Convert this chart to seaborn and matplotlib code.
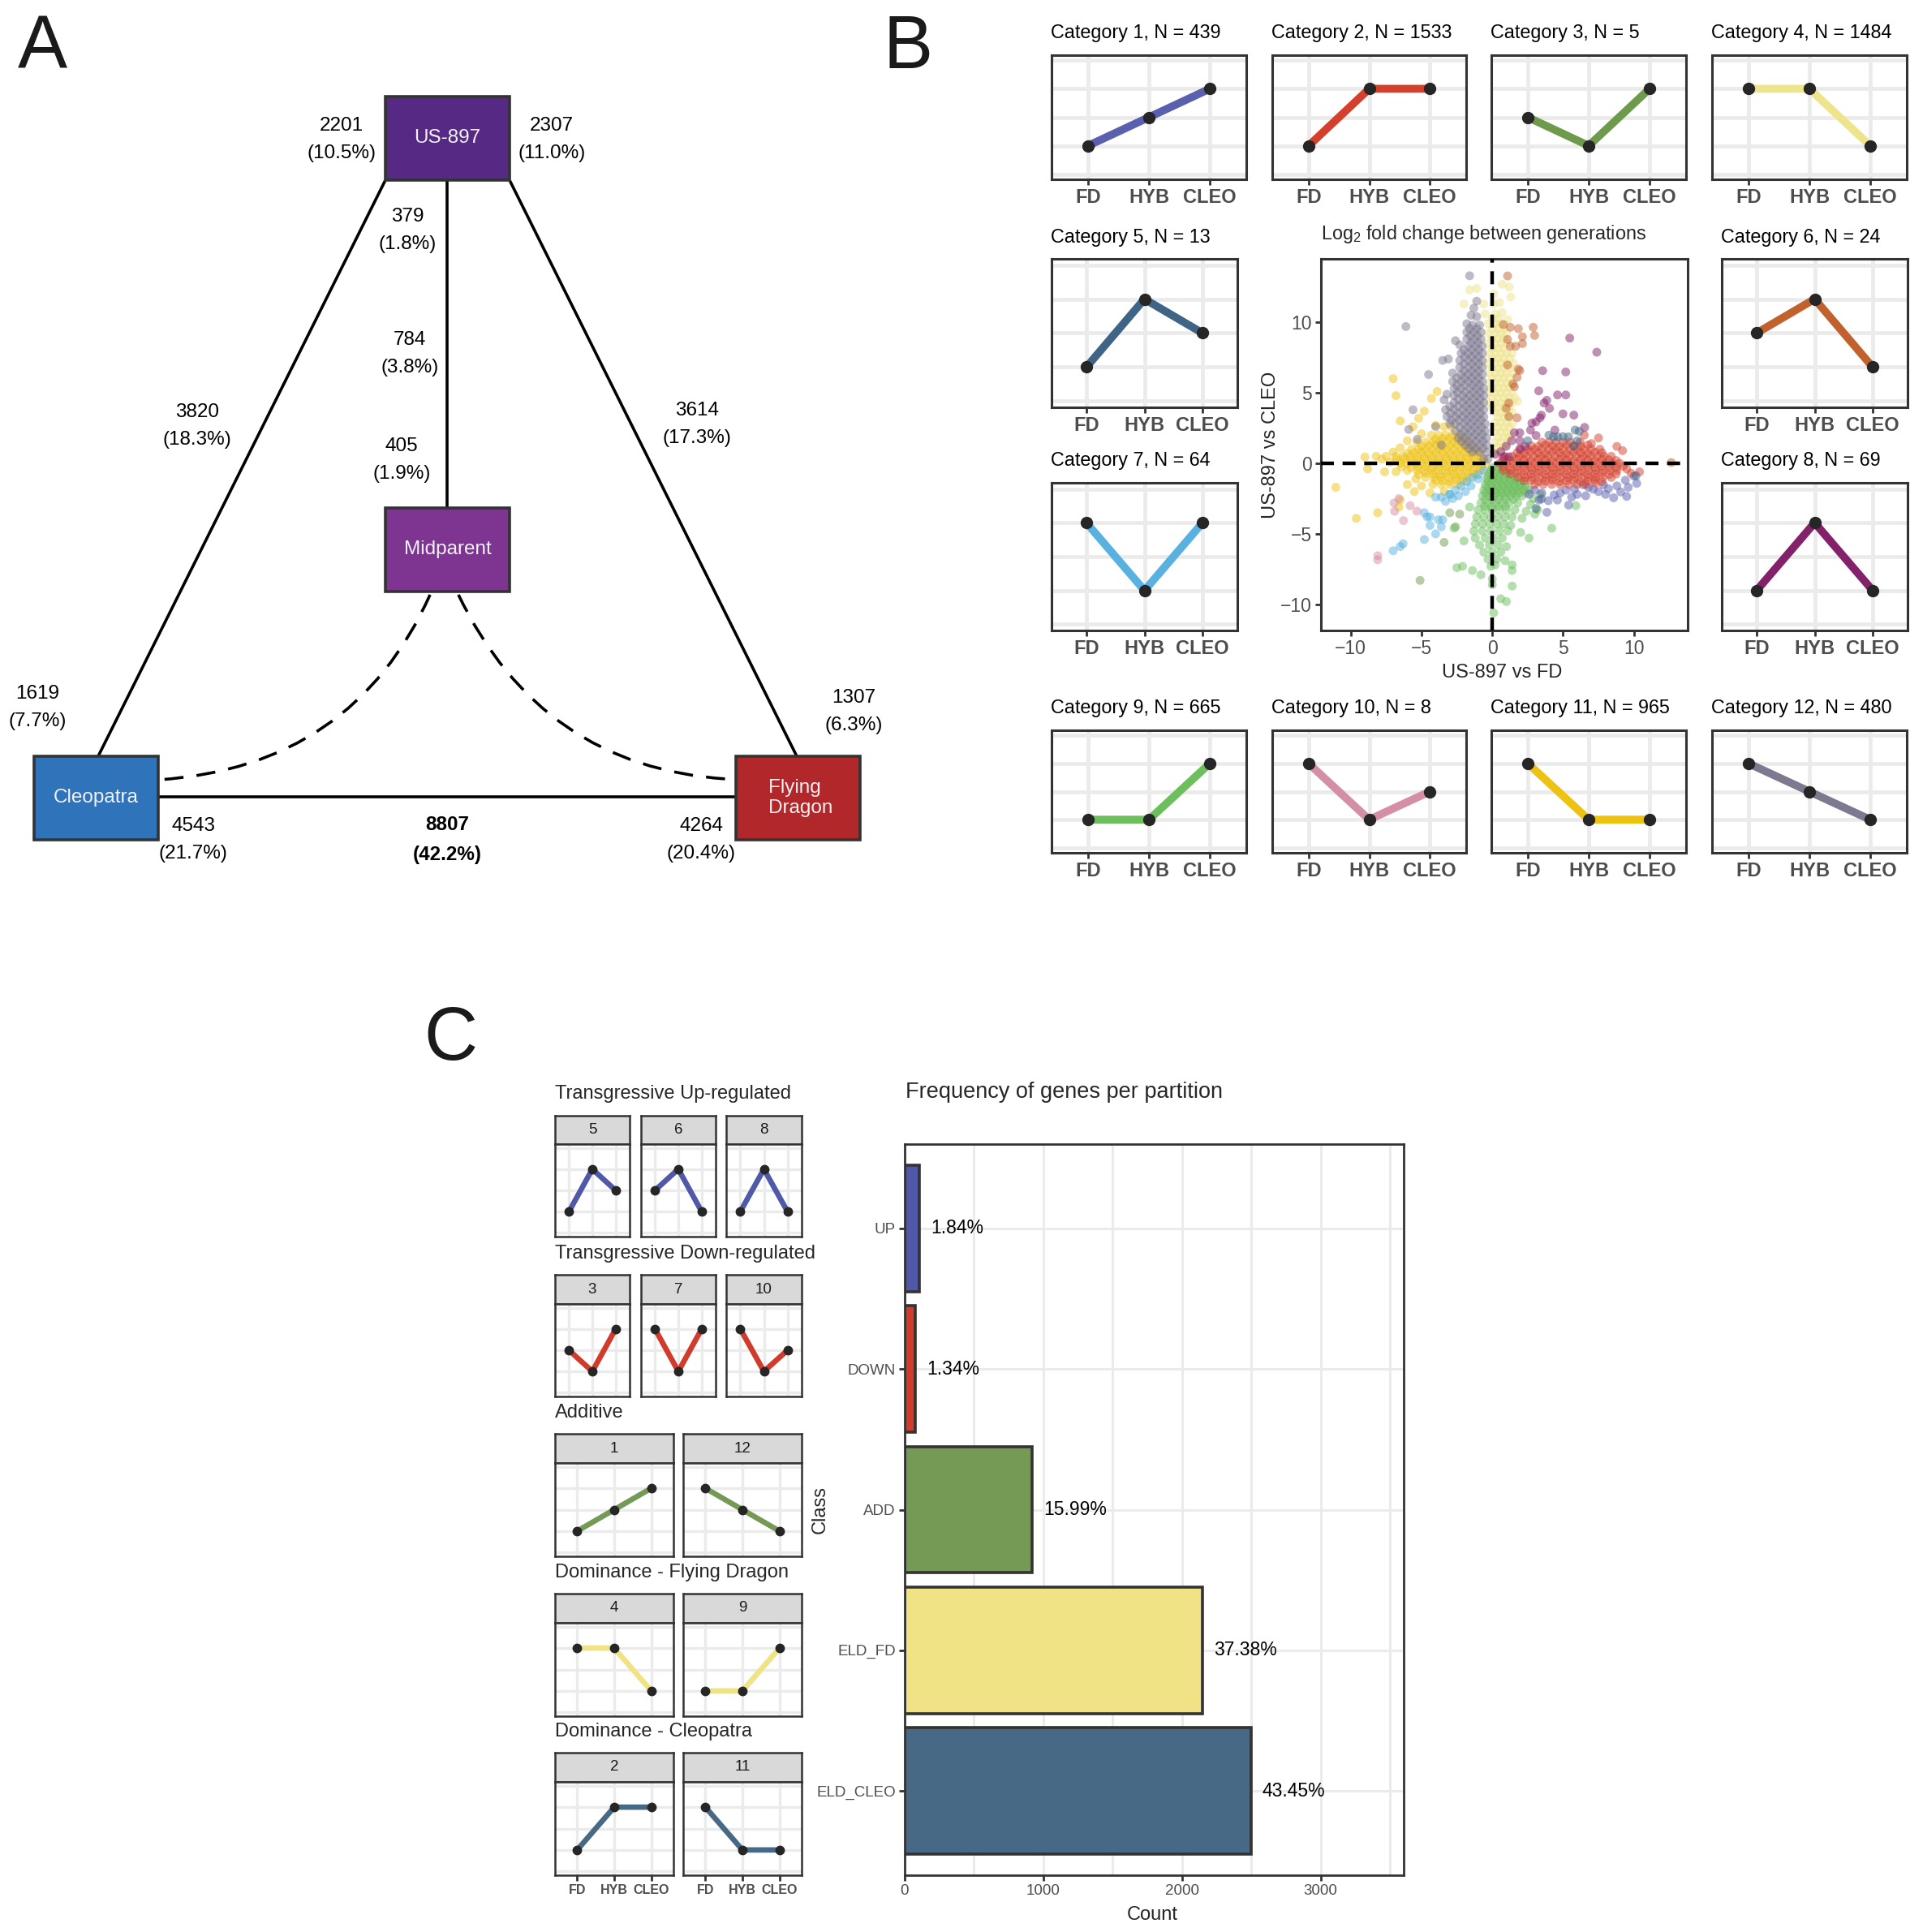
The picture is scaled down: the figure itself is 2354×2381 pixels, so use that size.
import matplotlib
matplotlib.use('Agg')
import matplotlib.pyplot as plt
import seaborn as sns
import pandas as pd
from matplotlib.patches import Rectangle, PathPatch
from matplotlib.path import Path

sns.set_theme(style='white')
plt.rcParams['font.family'] = ['Liberation Sans', 'DejaVu Sans']
plt.rcParams['mathtext.fontset'] = 'custom'
plt.rcParams['mathtext.rm'] = 'Liberation Sans'

# ---------------- data ----------------
# panel A: genes per contrast
a_counts = [2201, 2307, 379, 784, 405, 3820, 3614, 1619, 1307, 4543, 8807, 4264]
a_pcts = [10.5, 11.0, 1.8, 3.8, 1.9, 18.3, 17.3, 7.7, 6.3, 21.7, 42.2, 20.4]
a_nodes = ['US-897', 'Midparent', 'Cleopatra', 'Flying\nDragon']
a_node_colors = ['#562A84', '#7D3591', '#2F73BA', '#B2272A']

# panel B: expression categories
stages = ['FD', 'HYB', 'CLEO']
cat_ids = [1, 2, 3, 4, 5, 6, 7, 8, 9, 10, 11, 12]
cat_n = [439, 1533, 5, 1484, 13, 24, 64, 69, 665, 8, 965, 480]
cat_fd = [1, 1, 2, 3, 1, 2, 3, 1, 1, 3, 3, 3]
cat_hyb = [2, 3, 1, 3, 3, 3, 1, 3, 1, 1, 1, 2]
cat_cleo = [3, 3, 3, 1, 2, 1, 3, 1, 3, 2, 1, 1]
cat_colors = ['#5A5FAE', '#D5402D', '#6E9A4C', '#EEE48B', '#3F6485', '#C1622E',
              '#58B1E0', '#83216B', '#6DBF5E', '#D48FA6', '#EEC213', '#7E7990']

# log2 fold change points (US-897 vs FD, US-897 vs CLEO), read per category
pts_cat1 = [(8.57, -2.44), (9.49, -2.34), (9.07, -2.03), (10.2, -1.42), (10.0, -0.9), (7.13, -1.83),
            (5.39, -2.96), (3.86, -3.47), (3.96, -2.65), (4.37, -2.24), (5.8, -1.83), (7.85, -1.52),
            (6.42, -1.52), (3.0, -1.9), (3.5, -2.1), (4.8, -2.1), (5.2, -1.9), (6.0, -2.2), (6.8, -1.7),
            (7.5, -2.0), (8.2, -1.8), (8.8, -1.6), (9.4, -1.2), (2.6, -2.2), (4.6, -2.6), (6.6, -2.3),
            (8.0, -2.2), (9.6, -1.7), (3.3, -2.6), (5.6, -2.4)]
pts_cat2 = [(0.5, 0.0), (1.0, 0.0), (1.5, 0.0), (2.0, 0.0), (2.5, 0.0), (3.0, 0.0), (3.5, 0.0), (4.0, 0.0),
            (4.5, 0.0), (5.0, 0.0), (5.5, 0.0), (6.0, 0.0), (6.5, 0.0), (7.0, 0.0), (7.5, 0.0), (8.0, 0.0),
            (8.5, 0.0), (9.0, 0.0),
            (0.9, 0.5), (1.4, 0.5), (1.9, 0.5), (2.4, 0.5), (2.9, 0.5), (3.4, 0.5), (3.9, 0.5), (4.4, 0.5),
            (4.9, 0.5), (5.4, 0.5), (5.9, 0.5), (6.4, 0.5), (6.9, 0.5), (7.4, 0.5), (7.9, 0.5), (8.4, 0.5),
            (2.0, 1.0), (2.5, 1.0), (3.0, 1.0), (3.5, 1.0), (4.0, 1.0), (4.5, 1.0), (5.0, 1.0), (5.5, 1.0),
            (6.0, 1.0), (6.5, 1.0), (7.0, 1.0), (7.6, 1.0),
            (3.5, 1.5), (4.0, 1.5), (4.5, 1.5), (5.0, 1.5), (5.5, 1.5), (6.2, 1.5), (7.0, 1.4),
            (0.8, -0.5), (1.3, -0.5), (1.8, -0.5), (2.3, -0.5), (2.8, -0.5), (3.3, -0.5), (3.8, -0.5),
            (4.3, -0.5), (4.8, -0.5), (5.3, -0.5), (5.8, -0.5), (6.3, -0.5), (6.8, -0.5), (7.3, -0.5),
            (7.8, -0.5), (8.3, -0.5), (8.8, -0.5), (9.5, -0.4),
            (1.8, -1.0), (2.3, -1.0), (2.8, -1.0), (3.3, -1.0), (3.8, -1.0), (4.3, -1.0), (4.8, -1.0),
            (5.3, -1.0), (5.8, -1.0), (6.3, -1.0), (6.8, -1.0), (7.3, -1.0), (7.8, -1.0), (8.4, -1.0),
            (3.0, -1.5), (3.6, -1.5), (4.2, -1.5), (4.8, -1.5), (5.4, -1.5), (6.0, -1.5), (6.6, -1.5),
            (7.3, -1.4), (9.2, 0.9), (9.8, -0.7), (10.4, -0.6), (8.8, 1.2), (7.5, 1.8), (6.5, 2.0)]
pts_cat2_core = [(0.75, 0.25), (1.25, 0.2), (1.75, 0.3), (2.25, 0.25), (2.75, 0.2), (3.25, 0.3), (3.75, 0.25),
                 (4.25, 0.2), (4.75, 0.3), (5.25, 0.25), (5.75, 0.2), (6.25, 0.3), (6.75, 0.25), (7.25, 0.2),
                 (7.75, 0.3), (8.25, 0.25), (8.75, 0.2),
                 (0.75, -0.25), (1.25, -0.3), (1.75, -0.2), (2.25, -0.25), (2.75, -0.3), (3.25, -0.2),
                 (3.75, -0.25), (4.25, -0.3), (4.75, -0.2), (5.25, -0.25), (5.75, -0.3), (6.25, -0.2),
                 (6.75, -0.25), (7.25, -0.3), (7.75, -0.2), (8.25, -0.25), (8.75, -0.3), (9.25, -0.2),
                 (1.25, -0.75), (1.75, -0.7), (2.25, -0.8), (2.75, -0.75), (3.25, -0.7), (3.75, -0.8),
                 (4.25, -0.75), (4.75, -0.7), (5.25, -0.8), (5.75, -0.75), (6.25, -0.7), (6.75, -0.8),
                 (7.25, -0.75), (7.75, -0.7), (8.25, -0.8), (8.75, -0.75),
                 (1.75, 0.75), (2.25, 0.7), (2.75, 0.8), (3.25, 0.75), (3.75, 0.7), (4.25, 0.8), (4.75, 0.75),
                 (5.25, 0.7), (5.75, 0.8), (6.25, 0.75), (6.75, 0.7), (7.25, 0.8), (7.75, 0.75),
                 (2.25, -1.25), (2.75, -1.2), (3.25, -1.3), (3.75, -1.25), (4.25, -1.2), (4.75, -1.3),
                 (5.25, -1.25), (5.75, -1.2), (6.25, -1.3), (6.75, -1.25), (7.25, -1.2), (7.75, -1.3),
                 (2.75, 1.25), (3.25, 1.2), (3.75, 1.3), (4.25, 1.25), (4.75, 1.2), (5.25, 1.3), (5.75, 1.25),
                 (6.25, 1.2), (6.75, 1.3)]
pts_cat3 = [(-3.4, -5.6), (-5.1, -8.3), (-2.3, -3.6), (-3.0, -3.5), (-2.6, -4.5)]
pts_cat4 = [(0.2, 0.8), (0.6, 0.9), (0.2, 1.5), (0.6, 1.5), (1.0, 1.4), (0.2, 2.2), (0.6, 2.2), (1.0, 2.2),
            (1.3, 2.0), (0.2, 2.9), (0.6, 2.9), (1.0, 2.9), (1.4, 2.8), (0.2, 3.6), (0.6, 3.6), (1.0, 3.6),
            (1.4, 3.6), (-0.2, 4.3), (0.2, 4.3), (0.6, 4.3), (1.0, 4.3), (1.4, 4.3), (1.8, 4.4),
            (-0.2, 5.0), (0.2, 5.0), (0.6, 5.0), (1.0, 5.0), (1.4, 5.0), (-0.2, 5.7), (0.2, 5.7),
            (0.6, 5.7), (1.0, 5.7), (1.4, 5.7), (-0.2, 6.4), (0.2, 6.4), (0.6, 6.4), (1.0, 6.4),
            (1.5, 6.4), (-0.3, 7.1), (0.2, 7.1), (0.6, 7.1), (1.0, 7.1), (1.5, 7.1), (-0.2, 7.8),
            (0.2, 7.8), (0.6, 7.8), (1.0, 7.8), (1.4, 7.8), (-0.3, 8.5), (0.2, 8.5), (0.6, 8.5),
            (1.0, 8.5), (-0.3, 9.2), (0.2, 9.2), (0.6, 9.2), (1.0, 9.2), (-0.3, 9.9), (0.2, 9.9),
            (0.6, 9.9), (1.1, 10.2), (-0.5, 10.6), (0.2, 10.6), (0.7, 10.7), (-0.6, 11.3), (0.1, 11.3),
            (0.5, 11.4), (0.7, 12.7), (1.2, 12.5), (-1.6, 12.3), (-1.1, 12.4), (-2.0, 11.3), (0.1, 12.0),
            (1.3, 11.8)]
pts_cat4_core = [(0.4, 1.15), (0.8, 1.15), (0.4, 1.85), (0.8, 1.85), (1.15, 1.8), (0.4, 2.55), (0.8, 2.55),
                 (1.2, 2.55), (0.4, 3.25), (0.8, 3.25), (1.2, 3.25), (0.0, 3.95), (0.4, 3.95), (0.8, 3.95),
                 (1.2, 3.95), (0.0, 4.65), (0.4, 4.65), (0.8, 4.65), (1.2, 4.65), (1.6, 4.65), (0.0, 5.35),
                 (0.4, 5.35), (0.8, 5.35), (1.2, 5.35), (0.0, 6.05), (0.4, 6.05), (0.8, 6.05), (1.2, 6.05),
                 (0.0, 6.75), (0.4, 6.75), (0.8, 6.75), (1.25, 6.75), (0.0, 7.45), (0.4, 7.45), (0.8, 7.45),
                 (1.25, 7.45), (0.0, 8.15), (0.4, 8.15), (0.8, 8.15), (0.0, 8.85), (0.4, 8.85), (0.8, 8.85),
                 (0.0, 9.55), (0.4, 9.55), (0.8, 9.55), (0.0, 10.25), (0.45, 10.25)]
pts_cat5 = [(5.85, 2.36), (6.14, 2.27), (4.61, 1.88), (4.32, 1.88), (5.38, 1.88), (5.76, 1.21),
            (10.15, -0.89), (3.47, -2.52), (3.09, -3.2), (4.0, 2.0), (5.0, 1.9), (6.0, 1.6), (2.5, 1.6)]
pts_cat6 = [(1.08, 13.29), (0.79, 9.84), (1.27, 9.65), (1.84, 9.55), (2.89, 9.65), (2.99, 9.07),
            (1.08, 8.78), (1.27, 8.3), (1.65, 8.3), (2.13, 8.49), (1.08, 6.97), (1.84, 6.68),
            (1.75, 6.1), (1.46, 5.62), (1.17, 4.28), (0.98, 3.9), (1.17, 3.32), (1.75, 3.23),
            (12.64, 0.06), (1.94, 6.58), (1.56, 5.43), (2.13, 8.98)]
pts_cat7 = [(-0.6, -0.5), (-1.0, -0.8), (-1.4, -1.0), (-1.8, -1.3), (-2.2, -1.6), (-2.6, -1.9),
            (-3.0, -2.2), (-3.6, -2.4), (-4.0, -2.4), (-3.3, -2.7), (-2.8, -2.5), (-1.5, -1.6),
            (-1.9, -2.0), (-2.4, -2.3), (-4.6, -3.8), (-3.8, -4.0), (-3.5, -4.0), (-4.4, -4.4),
            (-4.0, -5.0), (-3.6, -4.5), (-4.4, -3.8), (-4.8, -5.4), (-4.8, -3.5), (-7.0, -6.2),
            (-6.5, -5.9), (-6.3, -5.7), (-3.0, -2.2), (-1.0, -1.1)]
pts_cat8 = [(5.47, 8.88), (7.38, 7.88), (3.56, 6.57), (5.19, 6.48), (3.28, 5.14), (3.85, 4.47),
            (4.61, 4.85), (5.19, 4.85), (3.47, 3.42), (3.09, 2.94), (2.8, 2.85), (4.04, 3.9),
            (4.99, 3.51), (5.76, 3.42), (6.52, 2.55), (2.7, 2.36), (1.56, 2.17), (1.94, 1.6),
            (0.6, 0.83), (0.98, 1.21), (0.79, 0.45), (1.17, 0.45), (1.94, 1.02), (3.09, 1.98),
            (4.42, 2.36), (0.22, 0.64), (3.66, 4.28), (3.37, 3.23), (2.32, 1.21), (1.37, 1.6),
            (1.94, 2.17)]
pts_cat9 = [(0.0, -0.3), (0.4, -0.3), (-0.2, -0.7), (0.2, -0.7), (0.6, -0.7), (1.0, -0.7),
            (-0.4, -1.1), (0.0, -1.1), (0.4, -1.1), (0.8, -1.1), (1.2, -1.1), (1.6, -1.1),
            (-0.5, -1.5), (-0.1, -1.5), (0.3, -1.5), (0.7, -1.5), (1.1, -1.5), (1.5, -1.5), (1.9, -1.5),
            (2.3, -1.5), (-0.6, -1.9), (-0.2, -1.9), (0.2, -1.9), (0.6, -1.9), (1.0, -1.9), (1.4, -1.9),
            (1.8, -1.9), (2.2, -1.9), (2.6, -1.9), (-0.7, -2.3), (-0.3, -2.3), (0.1, -2.3), (0.5, -2.3),
            (0.9, -2.3), (1.3, -2.3), (1.7, -2.3), (2.1, -2.3), (-0.8, -2.8), (-0.3, -2.8), (0.2, -2.8),
            (0.7, -2.8), (1.2, -2.8), (1.8, -2.8), (2.7, -2.9), (-1.0, -3.3), (-0.5, -3.3), (0.0, -3.3),
            (0.5, -3.3), (1.0, -3.3), (1.6, -3.3), (2.4, -3.4), (3.2, -3.3), (-1.1, -3.8), (-0.6, -3.8),
            (-0.1, -3.8), (0.4, -3.8), (0.9, -3.8), (1.4, -3.8), (2.1, -3.9), (-1.2, -4.3), (-0.7, -4.3),
            (-0.2, -4.3), (0.3, -4.3), (0.8, -4.3), (1.3, -4.4), (-1.3, -4.8), (-0.7, -4.8), (-0.1, -4.8),
            (0.5, -4.8), (1.1, -4.8), (2.0, -4.9), (-1.2, -5.3), (-0.5, -5.3), (0.1, -5.3), (0.7, -5.3),
            (-0.9, -5.8), (-0.2, -5.8), (0.4, -5.8), (1.0, -5.9), (-0.6, -6.3), (0.0, -6.3), (0.6, -6.3),
            (-0.3, -6.8), (0.3, -6.8), (0.9, -6.9), (-0.1, -7.3), (0.2, -7.2), (1.4, -7.2),
            (-2.5, -7.4), (-2.1, -7.3), (-1.4, -7.6), (-0.8, -7.9), (0.0, -8.2), (0.0, -8.6), (0.6, -9.6),
            (1.0, -9.8), (1.4, -8.7), (1.4, -7.6), (0.1, -10.6), (2.6, -5.3), (4.2, -4.6), (3.0, -3.6),
            (5.9, -3.0), (-2.7, -4.6), (3.4, -2.2), (2.9, -2.5), (-1.6, -3.1), (-2.0, -5.5)]
pts_cat9_core = [(-0.1, -0.5), (0.3, -0.5), (0.7, -0.5), (-0.3, -0.9), (0.1, -0.9), (0.5, -0.9), (0.9, -0.9),
                 (1.3, -0.9), (-0.3, -1.3), (0.1, -1.3), (0.5, -1.3), (0.9, -1.3), (1.3, -1.3), (1.7, -1.3),
                 (2.0, -1.3), (-0.4, -1.7), (0.0, -1.7), (0.4, -1.7), (0.8, -1.7), (1.2, -1.7), (1.6, -1.7),
                 (2.0, -1.7), (2.4, -1.7), (-0.5, -2.1), (-0.1, -2.1), (0.3, -2.1), (0.7, -2.1), (1.1, -2.1),
                 (1.5, -2.1), (1.9, -2.1), (2.4, -2.1), (-0.5, -2.55), (0.0, -2.55), (0.45, -2.55),
                 (0.95, -2.55), (1.5, -2.55), (-0.55, -3.05), (-0.05, -3.05), (0.45, -3.05), (0.95, -3.05)]
pts_cat10 = [(-6.94, -2.81), (-6.27, -4.06), (-5.32, -3.39), (-8.09, -6.55), (-8.09, -6.84),
             (-6.6, -2.5), (-6.9, -3.4), (-5.8, -3.0)]
pts_cat11 = [(-0.5, 0.0), (-1.0, 0.0), (-1.5, 0.0), (-2.0, 0.0), (-2.5, 0.0), (-3.0, 0.0), (-3.5, 0.0),
             (-4.0, 0.0), (-4.5, 0.0), (-5.0, 0.0), (-5.5, 0.0), (-6.0, 0.0), (-6.5, 0.0), (-7.2, 0.1),
             (-0.8, 0.5), (-1.3, 0.5), (-1.8, 0.5), (-2.3, 0.5), (-2.8, 0.5), (-3.3, 0.5), (-3.8, 0.5),
             (-4.3, 0.5), (-4.8, 0.5), (-5.3, 0.5), (-5.8, 0.5), (-6.3, 0.5), (-6.8, 0.5), (-7.5, 0.5),
             (-8.2, 0.5), (-9.0, 0.45), (-1.2, 1.0), (-1.7, 1.0), (-2.2, 1.0), (-2.7, 1.0), (-3.2, 1.0),
             (-3.7, 1.0), (-4.2, 1.0), (-4.7, 1.0), (-5.2, 1.0), (-5.7, 1.0), (-6.5, 1.1), (-1.7, 1.5),
             (-2.2, 1.5), (-2.7, 1.5), (-3.2, 1.5), (-3.7, 1.5), (-4.2, 1.5), (-4.7, 1.5), (-5.3, 1.5),
             (-6.0, 1.6), (-2.3, 2.0), (-2.8, 2.0), (-3.3, 2.0), (-3.8, 2.0), (-4.3, 2.0), (-5.0, 2.1),
             (-2.9, 2.6), (-3.4, 2.6), (-4.0, 2.7), (-5.6, 2.6), (-0.8, -0.5), (-1.3, -0.5), (-1.8, -0.5),
             (-2.3, -0.5), (-2.8, -0.5), (-3.3, -0.5), (-3.8, -0.5), (-4.3, -0.5), (-4.8, -0.5),
             (-5.3, -0.5), (-6.0, -0.5), (-6.8, -0.6), (-7.6, -0.6), (-1.6, -1.0), (-2.1, -1.0),
             (-2.6, -1.0), (-3.1, -1.0), (-3.6, -1.0), (-4.1, -1.0), (-4.7, -1.0), (-5.4, -1.1),
             (-2.4, -1.5), (-3.0, -1.5), (-3.6, -1.5), (-4.2, -1.5), (-5.0, -1.6), (-6.0, -1.5),
             (-3.4, -2.0), (-4.4, -2.1), (-5.5, -2.0), (-11.05, -1.7), (-9.6, -3.9), (-8.1, -3.5),
             (-7.0, 6.0), (-6.8, 4.8), (-8.8, -0.4), (-6.5, -2.6), (-6.6, -3.1), (-4.8, 3.7),
             (-3.9, 5.1), (-4.3, 4.6), (-6.5, 3.0), (-5.2, 3.2)]
pts_cat11_core = [(-0.75, 0.25), (-1.25, 0.2), (-1.75, 0.3), (-2.25, 0.25), (-2.75, 0.2), (-3.25, 0.3),
                  (-3.75, 0.25), (-4.25, 0.2), (-4.75, 0.3), (-5.25, 0.25), (-5.75, 0.2), (-6.25, 0.3),
                  (-6.75, 0.25), (-7.8, 0.3), (-1.0, 0.75), (-1.5, 0.7), (-2.0, 0.8), (-2.5, 0.75),
                  (-3.0, 0.7), (-3.5, 0.8), (-4.0, 0.75), (-4.5, 0.7), (-5.0, 0.8), (-5.5, 0.75), (-6.0, 0.7),
                  (-7.0, 0.8), (-1.5, 1.25), (-2.0, 1.2), (-2.5, 1.3), (-3.0, 1.25), (-3.5, 1.2), (-4.0, 1.3),
                  (-4.5, 1.25), (-5.0, 1.2), (-0.75, -0.25), (-1.25, -0.3), (-1.75, -0.2), (-2.25, -0.25),
                  (-2.75, -0.3), (-3.25, -0.2), (-3.75, -0.25), (-4.25, -0.3), (-4.75, -0.2), (-5.25, -0.25),
                  (-5.75, -0.3), (-6.4, -0.25), (-1.2, -0.75), (-1.7, -0.7), (-2.2, -0.8), (-2.7, -0.75),
                  (-3.2, -0.7), (-3.7, -0.8), (-4.2, -0.75), (-4.7, -0.7), (-5.2, -0.8), (-2.0, -1.25),
                  (-2.5, -1.2), (-3.0, -1.3), (-3.5, -1.25), (-4.0, -1.2), (-2.0, 1.75), (-2.5, 1.7),
                  (-3.0, 1.8), (-3.5, 1.75), (-4.0, 1.7)]
pts_cat12 = [(-0.3, 0.3), (-0.6, 0.3), (-0.4, 0.8), (-0.9, 0.8), (-1.4, 0.8), (-0.4, 1.3), (-0.9, 1.3),
             (-1.4, 1.3), (-1.9, 1.3), (-0.4, 1.8), (-0.9, 1.8), (-1.4, 1.8), (-1.9, 1.8), (-2.4, 1.8),
             (-0.5, 2.3), (-1.0, 2.3), (-1.5, 2.3), (-2.0, 2.3), (-2.6, 2.3), (-0.5, 2.8), (-1.0, 2.8),
             (-1.5, 2.8), (-2.0, 2.8), (-2.6, 2.8), (-3.0, 2.8), (-0.6, 3.3), (-1.1, 3.3), (-1.6, 3.3),
             (-2.1, 3.3), (-2.6, 3.3), (-3.2, 3.3), (-0.6, 3.8), (-1.1, 3.8), (-1.6, 3.8), (-2.1, 3.8),
             (-2.7, 3.8), (-3.3, 3.8), (-0.6, 4.3), (-1.1, 4.3), (-1.6, 4.3), (-2.1, 4.3), (-2.7, 4.3),
             (-3.4, 4.5), (-0.6, 4.8), (-1.1, 4.8), (-1.6, 4.8), (-2.1, 4.8), (-2.7, 4.8), (-3.2, 4.9),
             (-0.6, 5.3), (-1.1, 5.3), (-1.6, 5.3), (-2.2, 5.3), (-2.7, 5.3), (-0.7, 5.8), (-1.2, 5.8),
             (-1.7, 5.8), (-2.2, 5.8), (-2.8, 5.8), (-0.7, 6.3), (-1.2, 6.3), (-1.7, 6.3), (-2.2, 6.3),
             (-2.8, 6.4), (-0.7, 6.8), (-1.2, 6.8), (-1.7, 6.8), (-2.3, 6.8), (-0.7, 7.3), (-1.2, 7.3),
             (-1.7, 7.3), (-2.3, 7.3), (-3.1, 7.4), (-0.7, 7.8), (-1.2, 7.8), (-1.7, 7.8), (-2.2, 7.8),
             (-0.7, 8.3), (-1.2, 8.3), (-1.7, 8.3), (-2.3, 8.4), (-2.6, 8.7), (-0.8, 8.8), (-1.3, 8.8),
             (-1.8, 8.8), (-0.8, 9.3), (-1.3, 9.3), (-1.8, 9.3), (-0.9, 9.8), (-1.4, 9.8), (-1.8, 9.9),
             (-1.1, 10.4), (-1.5, 10.5), (-6.1, 9.7), (-1.6, 13.3), (-1.1, 11.5), (-1.3, 11.0),
             (-4.5, 6.3), (-3.5, 7.3), (-5.6, 3.8), (-5.9, 2.4), (-5.3, 1.7), (-4.0, 2.6), (-3.6, 1.3)]
pts_cat12_core = [(-0.65, 1.05), (-1.15, 1.05), (-1.65, 1.05), (-0.65, 1.55), (-1.15, 1.55), (-1.65, 1.55),
                  (-2.15, 1.55), (-0.7, 2.05), (-1.2, 2.05), (-1.7, 2.05), (-2.2, 2.05), (-0.75, 2.55),
                  (-1.25, 2.55), (-1.75, 2.55), (-2.3, 2.55), (-0.8, 3.05), (-1.3, 3.05), (-1.8, 3.05),
                  (-2.35, 3.05), (-2.9, 3.05), (-0.85, 3.55), (-1.35, 3.55), (-1.85, 3.55), (-2.4, 3.55),
                  (-2.95, 3.55), (-0.85, 4.05), (-1.35, 4.05), (-1.85, 4.05), (-2.4, 4.05), (-3.0, 4.05),
                  (-0.85, 4.55), (-1.35, 4.55), (-1.85, 4.55), (-2.4, 4.55), (-0.85, 5.05), (-1.35, 5.05),
                  (-1.9, 5.05), (-2.45, 5.05), (-0.9, 5.55), (-1.4, 5.55), (-1.95, 5.55), (-2.5, 5.55),
                  (-0.95, 6.05), (-1.45, 6.05), (-1.95, 6.05), (-2.5, 6.05), (-0.95, 6.55), (-1.45, 6.55),
                  (-2.0, 6.55), (-0.95, 7.05), (-1.45, 7.05), (-2.0, 7.05), (-0.95, 7.55), (-1.45, 7.55),
                  (-1.95, 7.55), (-0.95, 8.05), (-1.45, 8.05), (-2.0, 8.05), (-1.0, 8.55), (-1.5, 8.55),
                  (-1.05, 9.05), (-1.55, 9.05), (-1.1, 9.55), (-1.6, 9.55)]

# panel C: classes
class_titles = ['Transgressive Up-regulated', 'Transgressive Down-regulated', 'Additive',
                'Dominance - Flying Dragon', 'Dominance - Cleopatra']
class_labels = ['UP', 'DOWN', 'ADD', 'ELD_FD', 'ELD_CLEO']
class_members = [[5, 6, 8], [3, 7, 10], [1, 12], [4, 9], [2, 11]]
class_colors = ['#5059A8', '#D03B2B', '#749A56', '#EFE385', '#476985']

# ---------------- figure ----------------
W, H = 2354, 2381
fig = plt.figure(figsize=(W / 100, H / 100), dpi=100)
fig.patch.set_facecolor('white')

EDGE = '#333333'
TICK = '#4D4D4D'
GRID = '#EBEBEB'


def px_axes(x0, y0, x1, y1):
    return fig.add_axes([x0 / W, 1 - y1 / H, (x1 - x0) / W, (y1 - y0) / H])


def fig_text(x, y, s, **kw):
    return fig.text(x / W, 1 - y / H, s, **kw)


def style_box(ax, lw=2.0):
    for sp in ax.spines.values():
        sp.set_visible(True)
        sp.set_color(EDGE)
        sp.set_linewidth(lw)


def profile_panel(ax, cid, color, lw, ms, show_x, fs, grid_lw):
    i = cat_ids.index(cid)
    vals = [cat_fd[i], cat_hyb[i], cat_cleo[i]]
    df = pd.DataFrame({'stage': [0, 1, 2], 'level': vals})
    sns.lineplot(data=df, x='stage', y='level', color=color, linewidth=lw, ax=ax,
                 solid_capstyle='butt', zorder=3)
    ax.plot(df['stage'], df['level'], 'o', color='#262626', markersize=ms, zorder=4)
    ax.set_xlim(-0.6, 2.6)
    ax.set_ylim(-0.18, 4.18)
    ax.set_xticks([0, 1, 2])
    ax.set_yticks([0, 1, 2, 3, 4])
    ax.grid(True, color=GRID, linewidth=grid_lw)
    ax.set_axisbelow(True)
    ax.set_xlabel('')
    ax.set_ylabel('')
    ax.set_yticklabels([])
    ax.tick_params(axis='y', length=0)
    if show_x:
        ax.set_xticklabels(stages, fontweight='bold', color=TICK, fontsize=fs)
        ax.tick_params(axis='x', length=5, width=2, color=EDGE, pad=3, bottom=True)
    else:
        ax.set_xticklabels([])
        ax.tick_params(axis='x', length=0)


# ---------------- panel A ----------------
axA = px_axes(0, 0, 1100, 1100)
axA.set_xlim(0, 1100)
axA.set_ylim(1100, 0)
axA.axis('off')

node_boxes = [(475, 119), (475, 626), (42, 932), (907, 932)]
box_w, box_h = 153, 103
for (bx, by), name, col in zip(node_boxes, a_nodes, a_node_colors):
    axA.add_patch(Rectangle((bx, by), box_w, box_h, facecolor=col, edgecolor=EDGE,
                            linewidth=2.6, zorder=3))
    axA.text(bx + box_w / 2 + (3 if '\n' in name else 0), by + box_h / 2, name,
             color='#F2F2F2', fontsize=17.5, ha='center', va='center',
             multialignment='left', linespacing=1.15, zorder=4)

for (x0, y0, x1, y1) in [(475, 222, 121, 932), (628, 222, 982, 932),
                         (551, 222, 551, 626), (195, 982, 907, 982)]:
    axA.plot([x0, x1], [y0, y1], color='black', linewidth=2.6, zorder=1)

for p0, p1, p2 in [((530, 733), (435, 945), (196, 961)), ((565, 733), (667, 945), (895, 960))]:
    path = Path([p0, p1, p2], [Path.MOVETO, Path.CURVE3, Path.CURVE3])
    axA.add_patch(PathPatch(path, fill=False, edgecolor='black', linewidth=2.6,
                            linestyle=(0, (6.5, 4.5)), zorder=1))

a_label_pos = [(421, 172), (680, 172), (502, 284), (505, 436), (495, 567), (243, 525),
               (859, 523), (46, 872), (1052, 877), (238, 1035), (551, 1035), (864, 1035)]
for (tx, ty), n, p in zip(a_label_pos, a_counts, a_pcts):
    bold = n == max(a_counts)
    axA.text(tx, ty, f'{n}\n({p:.1f}%)', fontsize=17.5, ha='center', va='center',
             linespacing=1.75, fontweight='bold' if bold else 'normal', color='black')

# panel letters
fig_text(22, 84, 'A', fontsize=66, va='baseline', ha='left', color='#1A1A1A')
fig_text(1088, 84, 'B', fontsize=66, va='baseline', ha='left', color='#1A1A1A')
fig_text(522, 1306, 'C', fontsize=66, va='baseline', ha='left', color='#1A1A1A')

# ---------------- panel B ----------------
b_boxes = {1: (1296, 68, 1536, 221), 2: (1568, 68, 1807, 221), 3: (1838, 68, 2078, 221),
           4: (2110, 68, 2350, 221), 5: (1296, 319, 1525, 502), 6: (2122, 319, 2351, 502),
           7: (1296, 595, 1525, 777), 8: (2122, 595, 2351, 777), 9: (1296, 900, 1536, 1051),
           10: (1568, 900, 1807, 1051), 11: (1838, 900, 2078, 1051), 12: (2110, 900, 2350, 1051)}

for cid in cat_ids:
    x0, y0, x1, y1 = b_boxes[cid]
    ax = px_axes(x0, y0, x1, y1)
    i = cat_ids.index(cid)
    profile_panel(ax, cid, cat_colors[i], lw=7, ms=10, show_x=True, fs=17, grid_lw=3.4)
    style_box(ax, 2.2)
    fig_text(x0 - 1, y0 - 27, f'Category {cid}, N = {cat_n[i]}', fontsize=16.8,
             ha='left', va='center', color='black')

# scatter
scatter_sets = [(4, pts_cat4 + pts_cat4_core), (11, pts_cat11 + pts_cat11_core),
                (12, pts_cat12 + pts_cat12_core), (7, pts_cat7), (10, pts_cat10), (3, pts_cat3),
                (9, pts_cat9 + pts_cat9_core), (1, pts_cat1), (2, pts_cat2 + pts_cat2_core),
                (8, pts_cat8), (6, pts_cat6), (5, pts_cat5)]
rows = []
for cid, pts in scatter_sets:
    for x, y in pts:
        rows.append({'fd': x, 'cleo': y, 'cat': cid})
sc_df = pd.DataFrame(rows)
pal = {cid: cat_colors[cat_ids.index(cid)] for cid in cat_ids}

axS = px_axes(1628, 319, 2080, 777)
sns.scatterplot(data=sc_df, x='fd', y='cleo', hue='cat', palette=pal, s=62, alpha=0.5,
                linewidth=0, legend=False, ax=axS)
axS.axhline(0, color='black', linewidth=3.2, linestyle=(0, (3.6, 2.4)), zorder=5)
axS.axvline(0, color='black', linewidth=3.2, linestyle=(0, (3.6, 2.4)), zorder=5)
axS.set_xlim(-12.1, 13.8)
axS.set_ylim(-11.85, 14.5)
axS.set_xticks([-10, -5, 0, 5, 10])
axS.set_yticks([-10, -5, 0, 5, 10])
axS.tick_params(axis='both', labelsize=16.5, labelcolor=TICK, length=5, width=2,
                color=EDGE, bottom=True, left=True, pad=3)
axS.set_xlabel('')
axS.set_ylabel('')
style_box(axS, 2.2)
fig_text(1628, 289, r'Log$_2$ fold change between generations', fontsize=16.8,
         ha='left', va='center')
fig_text(1851, 829, 'US-897 vs FD', fontsize=17, ha='center', va='center')
fig_text(1566, 548, 'US-897 vs CLEO', fontsize=17, ha='center', va='center', rotation=90)

# ---------------- panel C: mini profiles ----------------
c_rows = [(1374.5, 1410, 1524), (1571, 1607, 1721), (1767, 1803, 1918),
          (1964, 2000, 2115), (2160, 2196, 2311)]
c_title_y = [1348, 1545, 1741, 1938, 2134]
cols3 = [(684, 776), (790, 882), (895, 988)]
cols2 = [(684, 830), (842, 988)]

for r, (title, members, col) in enumerate(zip(class_titles, class_members, class_colors)):
    ys, yp, yb = c_rows[r]
    fig_text(684, c_title_y[r], title, fontsize=17, ha='left', va='center')
    cols = cols3 if len(members) == 3 else cols2
    for cid, (x0, x1) in zip(members, cols):
        sax = px_axes(x0, ys, x1, yp)
        sax.set_facecolor('#D9D9D9')
        sax.set_xticks([])
        sax.set_yticks([])
        style_box(sax, 1.8)
        sax.text(0.5, 0.5, str(cid), transform=sax.transAxes, ha='center', va='center',
                 fontsize=13.5, color='#1A1A1A')
        pax = px_axes(x0, yp, x1, yb)
        profile_panel(pax, cid, col, lw=4.8, ms=7.5, show_x=(r == 4), fs=11.5, grid_lw=2.4)
        style_box(pax, 1.8)

# ---------------- panel C: bar chart ----------------
class_counts = [sum(cat_n[cat_ids.index(c)] for c in m) for m in class_members]
total = sum(class_counts)
bar_df = pd.DataFrame({'Class': class_labels, 'Count': class_counts})

axB = px_axes(1115, 1410, 1730, 2311)
sns.barplot(data=bar_df, x='Count', y='Class', hue='Class', palette=class_colors,
            order=class_labels, hue_order=class_labels, legend=False, width=0.9,
            edgecolor=EDGE, linewidth=2.6, orient='h', saturation=1, ax=axB)
axB.set_xlim(0, 3600)
axB.set_ylim(4.6, -0.6)
axB.set_xticks([0, 1000, 2000, 3000])
axB.set_xticks([500, 1500, 2500, 3500], minor=True)
axB.grid(True, which='major', color=GRID, linewidth=2.2)
axB.grid(True, which='minor', axis='x', color=GRID, linewidth=2.2)
axB.set_axisbelow(True)
axB.tick_params(axis='both', which='major', labelsize=13.5, labelcolor=TICK, length=5,
                width=2, color=EDGE, bottom=True, left=True, pad=3)
axB.tick_params(axis='x', which='minor', length=0)
axB.set_xlabel('')
axB.set_ylabel('')
style_box(axB, 2.0)
for i, c in enumerate(class_counts):
    axB.annotate(f'{c / total * 100:.2f}%', (c, i), xytext=(10, 0), textcoords='offset points',
                 ha='left', va='center', fontsize=16.5, color='black')

fig_text(1116, 1346, 'Frequency of genes per partition', fontsize=19.5, ha='left', va='center')
fig_text(1011, 1860, 'Class', fontsize=17, ha='center', va='center', rotation=90)
fig_text(1420, 2360, 'Count', fontsize=17, ha='center', va='center')

fig.savefig('out.png', dpi=100, facecolor='white')
